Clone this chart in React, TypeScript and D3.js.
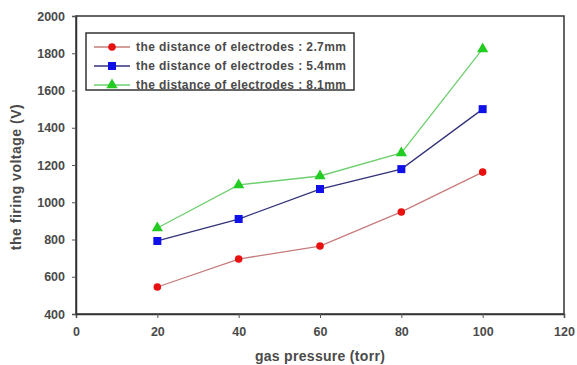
import React, { useEffect, useRef } from "react";
import * as d3 from "d3";

const pressures = [20, 40, 60, 80, 100];
const red27 = [545, 695, 765, 948, 1162];
const blue54 = [792, 910, 1071, 1178, 1500];
const green81 = [862, 1093, 1141, 1265, 1823];
const xTicks = [0, 20, 40, 60, 80, 100, 120];
const yTicks = [400, 600, 800, 1000, 1200, 1400, 1600, 1800, 2000];

const seriesList = [
  { name: "the distance of electrodes : 2.7mm", values: red27, line: "#c77b7b", marker: "#e81010", shape: "circle" },
  { name: "the distance of electrodes : 5.4mm", values: blue54, line: "#33337a", marker: "#1010e8", shape: "square" },
  { name: "the distance of electrodes : 8.1mm", values: green81, line: "#6fcf6f", marker: "#22cc22", shape: "triangle" },
];

const W = 577;
const H = 365;

export default function App() {
  const svgRef = useRef<SVGSVGElement>(null);

  useEffect(() => {
    if (!svgRef.current) return;
    const svg = d3.select(svgRef.current);
    svg.selectAll("*").remove();

    const margin = { top: 16, right: 13, bottom: 51, left: 76 };
    const x = d3.scaleLinear().domain([0, 120]).range([margin.left, W - margin.right]);
    const y = d3.scaleLinear().domain([400, 2000]).range([H - margin.bottom, margin.top]);
    const font = "Liberation Sans, Arial, sans-serif";
    const textColor = "#4a4a4a";

    // frame
    svg.append("rect")
      .attr("x", x(0)).attr("y", y(2000))
      .attr("width", x(120) - x(0)).attr("height", y(400) - y(2000))
      .attr("fill", "none").attr("stroke", "#333").attr("stroke-width", 1.5);

    // axes
    const xAxis = svg.append("g")
      .attr("transform", `translate(0,${y(400)})`)
      .call(d3.axisBottom(x).tickValues(xTicks).tickSize(4).tickPadding(9).tickFormat(d3.format("d")));
    const yAxis = svg.append("g")
      .attr("transform", `translate(${x(0)},0)`)
      .call(d3.axisLeft(y).tickValues(yTicks).tickSize(4).tickPadding(7).tickFormat(d3.format("d")));
    [xAxis, yAxis].forEach((g) => {
      g.select(".domain").attr("stroke", "#333").attr("stroke-width", 1.5);
      g.selectAll(".tick line").attr("stroke", "#555");
      g.selectAll(".tick text")
        .attr("font-family", font).attr("font-size", 12.5).attr("font-weight", "bold")
        .attr("fill", textColor);
    });

    // axis titles
    svg.append("text")
      .attr("x", x(60)).attr("y", 361)
      .attr("text-anchor", "middle")
      .attr("font-family", font).attr("font-size", 14).attr("font-weight", "bold")
      .attr("letter-spacing", 0.3)
      .attr("fill", textColor)
      .text("gas pressure (torr)");
    svg.append("text")
      .attr("transform", `translate(21,${(y(400) + y(2000)) / 2 + 12}) rotate(-90)`)
      .attr("text-anchor", "middle")
      .attr("font-family", font).attr("font-size", 14).attr("font-weight", "bold")
      .attr("letter-spacing", 0.5)
      .attr("fill", textColor)
      .text("the firing voltage (V)");

    const drawMarker = (g: any, shape: string, cx: number, cy: number, color: string) => {
      if (shape === "circle") {
        g.append("circle").attr("cx", cx).attr("cy", cy).attr("r", 3.8).attr("fill", color);
      } else if (shape === "square") {
        g.append("rect").attr("x", cx - 4).attr("y", cy - 4).attr("width", 8).attr("height", 8).attr("fill", color);
      } else {
        g.append("path")
          .attr("d", d3.symbol().type(d3.symbolTriangle).size(55)())
          .attr("transform", `translate(${cx},${cy})`)
          .attr("fill", color);
      }
    };

    const line = d3.line<number>()
      .x((_, i) => x(pressures[i]))
      .y((d) => y(d));

    seriesList.forEach((s) => {
      const g = svg.append("g");
      g.append("path")
        .attr("d", line(s.values))
        .attr("fill", "none")
        .attr("stroke", s.line)
        .attr("stroke-width", 1.3);
      s.values.forEach((v, i) => drawMarker(g, s.shape, x(pressures[i]), y(v), s.marker));
    });

    // legend
    const leg = svg.append("g");
    leg.append("rect")
      .attr("x", 86).attr("y", 33).attr("width", 268).attr("height", 57)
      .attr("fill", "white").attr("stroke", "#333").attr("stroke-width", 1.5);
    seriesList.forEach((s, i) => {
      const ly = 47 + i * 19;
      leg.append("line")
        .attr("x1", 94).attr("x2", 130).attr("y1", ly).attr("y2", ly)
        .attr("stroke", s.line).attr("stroke-width", 1.3);
      drawMarker(leg, s.shape, 112, ly, s.marker);
      leg.append("text")
        .attr("x", 136).attr("y", ly + 4)
        .attr("font-family", font).attr("font-size", 12).attr("font-weight", "bold")
        .attr("letter-spacing", 0.4)
        .attr("fill", textColor)
        .text(s.name);
    });
  }, []);

  return (
    <div style={{ position: "fixed", left: 0, top: 0, width: W, height: H }}>
      <svg ref={svgRef} width={W} height={H} style={{ display: "block", background: "white" }} />
    </div>
  );
}
